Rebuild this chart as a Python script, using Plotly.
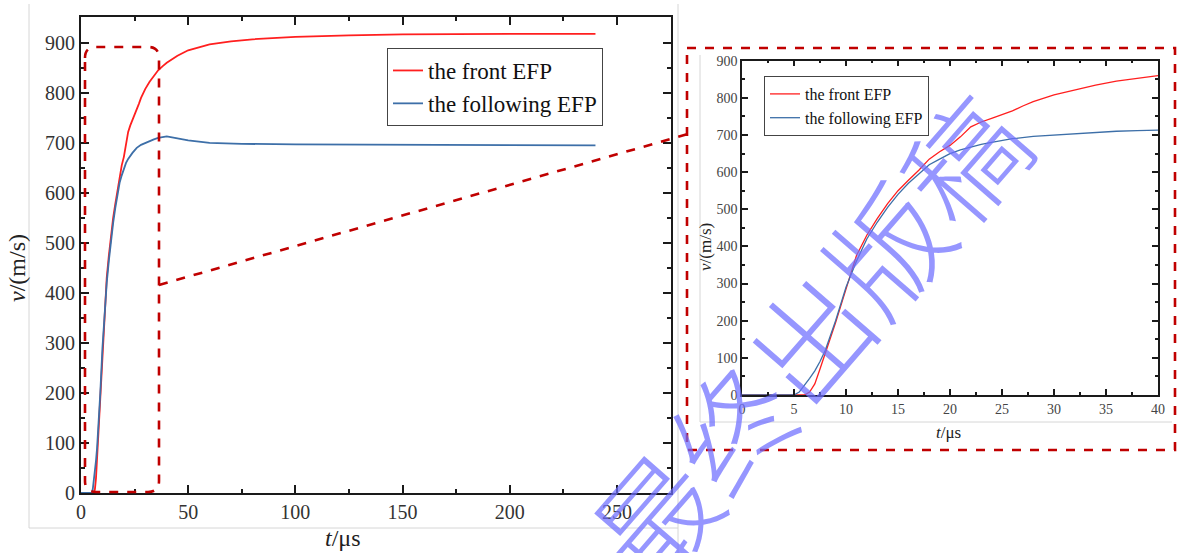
import plotly.graph_objects as go

W, H = 1182, 553

# ---------------- data ----------------
t_front = [0, 5, 6, 6.5, 7, 7.5, 8, 9, 10, 11, 12, 13, 14, 15, 16, 17, 18, 19, 20,
           21, 22, 23, 24, 25, 26, 27, 28, 30, 32, 34, 36, 38, 40, 45, 50, 60, 70,
           80, 100, 125, 150, 200, 240]
v_front = [0, 0, 0, 8, 30, 70, 110, 195, 285, 375, 430, 475, 515, 550, 578, 605, 635,
           655, 672, 695, 722, 735, 745, 755, 765, 778, 790, 808, 822, 834, 845, 853,
           860, 874, 885, 897, 903, 907, 912, 915, 917, 918, 918]

t_follow = [0, 5, 5.5, 6, 6.5, 7, 7.5, 8, 9, 10, 11, 12, 13, 14, 15, 16, 17, 18, 19,
            20, 21, 22, 23, 24, 25, 26, 28, 30, 32, 34, 36, 38, 40, 45, 50, 60, 75,
            100, 150, 200, 240]
v_follow = [0, 0, 8, 25, 45, 65, 90, 120, 200, 290, 360, 420, 465, 505, 540, 570, 595,
            620, 635, 650, 660, 668, 675, 680, 685, 690, 696, 700, 704, 707, 710, 712,
            713, 709, 705, 700, 698, 697, 696, 695, 695]

series_names = ["the front EFP", "the following EFP"]
main_xticks = [0, 50, 100, 150, 200, 250]
main_yticks = [0, 100, 200, 300, 400, 500, 600, 700, 800, 900]
inset_xticks = [0, 5, 10, 15, 20, 25, 30, 35, 40]
inset_yticks = [0, 100, 200, 300, 400, 500, 600, 700, 800, 900]

RED = "#ff1f1f"
BLUE = "#3d6fa8"
DRED = "#c00000"
SERIF = "Liberation Serif"


def px(x):
    return x / W


def py(y):
    return 1 - y / H


fig = go.Figure()

# main plot
fig.add_trace(go.Scatter(x=t_front, y=v_front, mode="lines", name=series_names[0],
                         line=dict(color=RED, width=1.8), xaxis="x", yaxis="y",
                         legend="legend"))
fig.add_trace(go.Scatter(x=t_follow, y=v_follow, mode="lines", name=series_names[1],
                         line=dict(color=BLUE, width=1.8), xaxis="x", yaxis="y",
                         legend="legend"))
# inset
fig.add_trace(go.Scatter(x=t_front, y=v_front, mode="lines", name=series_names[0],
                         line=dict(color=RED, width=1.3), xaxis="x2", yaxis="y2",
                         legend="legend2"))
fig.add_trace(go.Scatter(x=t_follow, y=v_follow, mode="lines", name=series_names[1],
                         line=dict(color=BLUE, width=1.3), xaxis="x2", yaxis="y2",
                         legend="legend2"))

axis_common = dict(showgrid=False, zeroline=False, showline=True, mirror="ticks",
                   ticks="inside", linecolor="#1a1a1a", tickcolor="#1a1a1a",
                   automargin=False)

fig.update_layout(
    width=W, height=H,
    margin=dict(l=0, r=0, t=0, b=0, pad=0, autoexpand=False),
    paper_bgcolor="white", plot_bgcolor="white",
    font=dict(family=SERIF, color="#222"),
    xaxis=dict(domain=[px(81), px(670.5)], range=[0, 275], anchor="y",
               tickvals=main_xticks, ticklen=8, tickwidth=2, linewidth=2,
               minor=dict(dtick=25, ticklen=4, tickwidth=2, ticks="inside",
                          tickcolor="#1a1a1a"),
               tickfont=dict(size=20, color="#333", family=SERIF), **axis_common),
    yaxis=dict(domain=[py(493), py(17.3)], range=[0, 951], anchor="x",
               tickvals=main_yticks, ticklen=8, tickwidth=2, linewidth=2,
               minor=dict(dtick=50, ticklen=4, tickwidth=2, ticks="inside",
                          tickcolor="#1a1a1a"),
               tickfont=dict(size=20, color="#333", family=SERIF), **axis_common),
    xaxis2=dict(domain=[px(742), px(1158)], range=[0, 40], anchor="y2",
                tickvals=inset_xticks, ticklen=6, tickwidth=1.5, linewidth=1.5,
                minor=dict(dtick=2.5, ticklen=3, tickwidth=1.5, ticks="inside",
                           tickcolor="#1a1a1a"),
                tickfont=dict(size=14, color="#444", family=SERIF), **axis_common),
    yaxis2=dict(domain=[py(395), py(60.7)], range=[0, 900], anchor="x2",
                tickvals=inset_yticks, ticklen=6, tickwidth=1.5, linewidth=1.5,
                minor=dict(dtick=50, ticklen=3, tickwidth=1.5, ticks="inside",
                           tickcolor="#1a1a1a"),
                tickfont=dict(size=14, color="#444", family=SERIF), **axis_common),
    legend=dict(x=px(387), y=py(48), xanchor="left", yanchor="top",
                bgcolor="white", bordercolor="#444", borderwidth=1,
                font=dict(size=23, family=SERIF, color="#111"),
                tracegroupgap=0),
    legend2=dict(x=px(764), y=py(76), xanchor="left", yanchor="top",
                 bgcolor="white", bordercolor="#444", borderwidth=1,
                 font=dict(size=16, family=SERIF, color="#111"),
                 tracegroupgap=0),
    showlegend=True,
)

# axis titles
ann = [
    dict(x=px(343), y=py(538), text="<i>t</i>/μs", font=dict(size=24, family=SERIF, color="#222")),
    dict(x=px(17), y=py(268), text="<i>v</i>/(m/s)", textangle=-90,
         font=dict(size=24, family=SERIF, color="#222")),
    dict(x=px(948), y=py(432), text="<i>t</i>/μs", font=dict(size=17, family=SERIF, color="#222")),
    dict(x=px(705), y=py(247), text="<i>v</i>/(m/s)", textangle=-90,
         font=dict(size=17, family=SERIF, color="#222")),
]
for a in ann:
    fig.add_annotation(xref="paper", yref="paper", showarrow=False,
                       xanchor="center", yanchor="middle", **a)

# watermark
fig.add_annotation(xref="paper", yref="paper", x=px(806), y=py(335), showarrow=False,
                   xanchor="center", yanchor="middle",
                   text="最终出版稿", textangle=-49,
                   font=dict(size=118, family="Noto Sans CJK SC", weight=300,
                             color="rgba(110,110,255,0.72)"))

# light gray screenshot borders
gray = dict(color="#d6d6d6", width=1)
shapes = [
    dict(type="line", xref="paper", yref="paper", x0=px(29), x1=px(29), y0=py(4), y1=py(528), line=gray),
    dict(type="line", xref="paper", yref="paper", x0=px(29), x1=px(678), y0=py(528), y1=py(528), line=gray),
    dict(type="line", xref="paper", yref="paper", x0=px(678), x1=px(678), y0=py(4), y1=py(553), line=gray),
    dict(type="line", xref="paper", yref="paper", x0=px(700), x1=px(700), y0=py(55), y1=py(422), line=gray),
    dict(type="line", xref="paper", yref="paper", x0=px(700), x1=px(1172), y0=py(422), y1=py(422), line=gray),
]

# dashed rounded rectangle on main plot (paper coordinates)
x0, x1, y0, y1, r = 85, 159, 47, 492, 11
path = (f"M {px(x0)},{py(y0 + r)} Q {px(x0)},{py(y0)} {px(x0 + r)},{py(y0)} "
        f"L {px(x1 - r)},{py(y0)} Q {px(x1)},{py(y0)} {px(x1)},{py(y0 + r)} "
        f"L {px(x1)},{py(y1 - r)} Q {px(x1)},{py(y1)} {px(x1 - r)},{py(y1)} "
        f"L {px(x0 + r)},{py(y1)} Q {px(x0)},{py(y1)} {px(x0)},{py(y1 - r)} Z")
dash = dict(color=DRED, width=2.6, dash="dash")
shapes += [
    dict(type="path", xref="paper", yref="paper", path=path, line=dash),
    dict(type="rect", xref="paper", yref="paper", x0=px(687), x1=px(1175), y0=py(48), y1=py(450), line=dash),
    dict(type="line", xref="paper", yref="paper", x0=px(159), x1=px(688), y0=py(285), y1=py(134), line=dash),
]
fig.update_layout(shapes=shapes)

fig.write_html("out.html", config={"displayModeBar": False},
               post_script="document.body.style.margin='0px';document.body.style.overflow='hidden';")
